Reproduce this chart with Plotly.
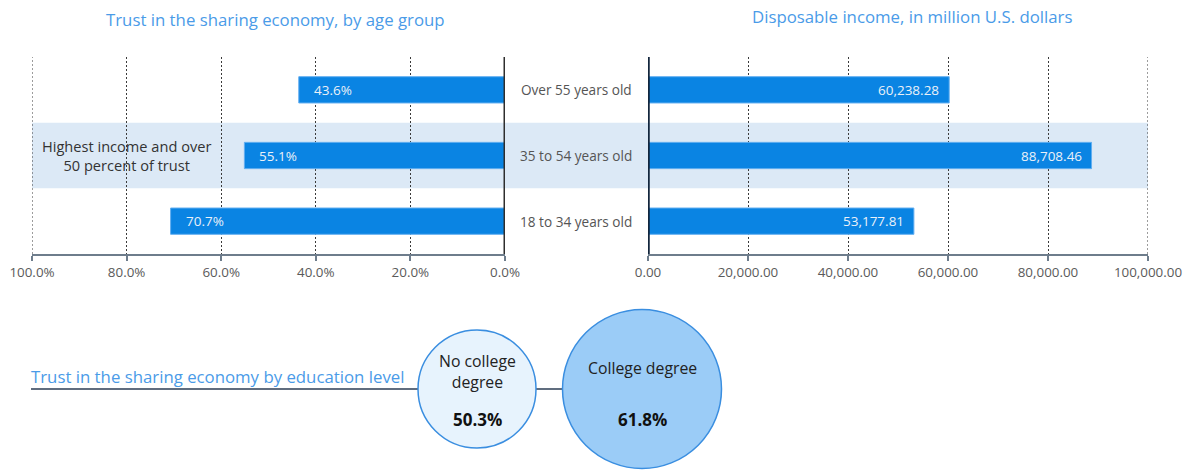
import plotly.graph_objects as go

W, H = 1192, 470

# ---------------- data ----------------
age_groups = ["18 to 34 years old", "35 to 54 years old", "Over 55 years old"]
trust_pct = [70.7, 55.1, 43.6]
income_musd = [53177.81, 88708.46, 60238.28]
highlight_group = "35 to 54 years old"
highlight_note = "Highest income and over<br>50 percent of trust"

trust_ticks = [100, 80, 60, 40, 20, 0]
trust_ticktext = ["100.0%", "80.0%", "60.0%", "40.0%", "20.0%", "0.0%"]
income_ticks = [0, 20000, 40000, 60000, 80000, 100000]
income_ticktext = ["0.00", "20,000.00", "40,000.00", "60,000.00", "80,000.00", "100,000.00"]

edu_levels = ["No college<br>degree", "College degree"]
edu_trust = [50.3, 61.8]

title_left = "Trust in the sharing economy, by age group"
title_right = "Disposable income, in million U.S. dollars"
title_edu = "Trust in the sharing economy by education level"

# ---------------- style ----------------
FONT = "Open Sans"
BAR = "#0a84e3"
BAR_EDGE = "#62aef0"
TITLE_C = "#4a9be8"
TICK_C = "#5a5a5a"
GRID_C = "#3a3a3a"
GRID_DASH = "2px,2px"
AXIS_C = "#6e7d8c"
BAND_C = "#dce9f6"

def px_x(p):
    return p / W

def px_y(p):
    return 1 - p / H

fig = go.Figure()

fig.add_trace(go.Bar(
    y=age_groups, x=trust_pct, orientation="h", xaxis="x", yaxis="y",
    marker=dict(color=BAR, line=dict(color=BAR_EDGE, width=1)),
    width=0.4, hoverinfo="x+y", showlegend=False,
))
fig.add_trace(go.Bar(
    y=age_groups, x=income_musd, orientation="h", xaxis="x2", yaxis="y",
    marker=dict(color=BAR, line=dict(color=BAR_EDGE, width=1)),
    width=0.4, hoverinfo="x+y", showlegend=False,
))

# education bubbles
vmin, vmax = min(edu_trust), max(edu_trust)
D_MIN, D_MAX = 118, 159
sizes = [D_MIN + (v - vmin) / (vmax - vmin) * (D_MAX - D_MIN) for v in edu_trust]
fig.add_trace(go.Scatter(
    x=list(range(len(edu_trust))), y=[0] * len(edu_trust), mode="markers",
    xaxis="x3", yaxis="y3", cliponaxis=False,
    marker=dict(size=sizes, sizemode="diameter",
                color=["#e7f3fd", "#9bccf7"], opacity=1,
                line=dict(color="#3a8ee0", width=1.5)),
    hoverinfo="skip", showlegend=False,
))

annotations = []
# bar labels
for g, v in zip(age_groups, trust_pct):
    annotations.append(dict(x=v, y=g, xref="x", yref="y", text=f"{v:.1f}%",
                            xanchor="left", xshift=13, showarrow=False,
                            font=dict(family=FONT, size=13.5, color="#eaf1f8")))
for g, v in zip(age_groups, income_musd):
    annotations.append(dict(x=v, y=g, xref="x2", yref="y", text=f"{v:,.2f}",
                            xanchor="right", xshift=-8, showarrow=False,
                            font=dict(family=FONT, size=13.5, color="#eaf1f8")))
# category labels in the middle
for g in age_groups:
    annotations.append(dict(x=px_x(576), y=g, xref="paper", yref="y", text=g,
                            xanchor="center", showarrow=False,
                            font=dict(family=FONT, size=13.6, color="#555555")))
# highlight note
annotations.append(dict(x=px_x(126), y=highlight_group, xref="paper", yref="y",
                        text=highlight_note, showarrow=False, xanchor="center",
                        font=dict(family=FONT, size=14.6, color="#333333")))
# titles
annotations.append(dict(x=px_x(275), y=px_y(19), xref="paper", yref="paper",
                        text=title_left, showarrow=False, xanchor="center", yanchor="middle",
                        font=dict(family=FONT, size=16.8, color=TITLE_C)))
annotations.append(dict(x=px_x(911.5), y=px_y(16), xref="paper", yref="paper",
                        text=title_right, showarrow=False, xanchor="center", yanchor="middle",
                        font=dict(family=FONT, size=16.8, color=TITLE_C)))
annotations.append(dict(x=px_x(29), y=0, xref="paper", yref="y3", yshift=13,
                        text=title_edu, showarrow=False, xanchor="left", yanchor="middle",
                        font=dict(family=FONT, size=16.8, color=TITLE_C)))
# bubble texts
for i, (lab, v) in enumerate(zip(edu_levels, edu_trust)):
    two_lines = "<br>" in lab
    annotations.append(dict(x=i, y=0, xref="x3", yref="y3", text=lab,
                            yshift=17.5 if two_lines else 21.5,
                            showarrow=False, xanchor="center", yanchor="middle",
                            font=dict(family=FONT, size=15.8, color="#222222")))
    annotations.append(dict(x=i, y=0, xref="x3", yref="y3", text=f"<b>{v:.1f}%</b>", yshift=-30.5,
                            showarrow=False, xanchor="center", yanchor="middle",
                            font=dict(family=FONT, size=17, color="#111111")))

hi = age_groups.index(highlight_group)
shapes = [
    # highlight band
    dict(type="rect", xref="paper", yref="y", x0=px_x(32), x1=px_x(1148),
         y0=hi - 0.5, y1=hi + 0.5, fillcolor=BAND_C, line=dict(width=0), layer="below"),
    # gridlines at the outer ends of both axes (plotly omits gridlines at range edges)
    dict(type="line", xref="x", yref="y domain", x0=trust_ticks[0], x1=trust_ticks[0], y0=0, y1=1,
         line=dict(color=GRID_C, width=1, dash=GRID_DASH), layer="below"),
    dict(type="line", xref="x2", yref="y domain", x0=income_ticks[-1], x1=income_ticks[-1], y0=0, y1=1,
         line=dict(color=GRID_C, width=1, dash=GRID_DASH), layer="below"),
    # zero lines
    dict(type="line", xref="x", yref="y domain", x0=0, x1=0, y0=0, y1=1,
         line=dict(color="#2e2e2e", width=3)),
    dict(type="line", xref="x2", yref="y domain", x0=0, x1=0, y0=0, y1=1,
         line=dict(color="#13263d", width=3.5)),
    # underline + connector for the education section
    dict(type="line", xref="paper", yref="y3", x0=px_x(31), x1=px_x(563), y0=0, y1=0,
         line=dict(color="#2b3d55", width=1.5), layer="below"),
]

axis_common = dict(showgrid=True, gridcolor=GRID_C, griddash=GRID_DASH, gridwidth=1,
                   showline=True, linecolor=AXIS_C, linewidth=1.5,
                   ticks="outside", ticklen=5, tickcolor=AXIS_C, tickwidth=1.5,
                   zeroline=False, fixedrange=True, automargin=False,
                   tickfont=dict(family=FONT, size=13.4, color=TICK_C))

fig.update_layout(
    template="none",
    width=W, height=H,
    margin=dict(l=0, r=0, t=0, b=0, autoexpand=False),
    paper_bgcolor="white", plot_bgcolor="rgba(0,0,0,0)",
    barmode="overlay",
    xaxis=dict(domain=[px_x(32), px_x(505)], range=[100, 0], anchor="y",
               tickvals=trust_ticks, ticktext=trust_ticktext, **axis_common),
    xaxis2=dict(domain=[px_x(648), px_x(1148)], range=[0, 100000], anchor="y",
                tickvals=income_ticks, ticktext=income_ticktext, **axis_common),
    yaxis=dict(domain=[px_y(254), px_y(57)], range=[-0.5, 2.5], automargin=False,
               categoryorder="array", categoryarray=age_groups,
               showticklabels=False, showgrid=False, zeroline=False, showline=False,
               ticks="", fixedrange=True),
    xaxis3=dict(domain=[px_x(477), px_x(642)], range=[0, 1], anchor="y3", visible=False,
                automargin=False),
    yaxis3=dict(domain=[0, 2 * (1 - 389 / H)], range=[-1, 1], anchor="x3", visible=False,
                automargin=False),
    annotations=annotations,
    shapes=shapes,
    font=dict(family=FONT),
    showlegend=False,
)

fig.write_html("out.html")
